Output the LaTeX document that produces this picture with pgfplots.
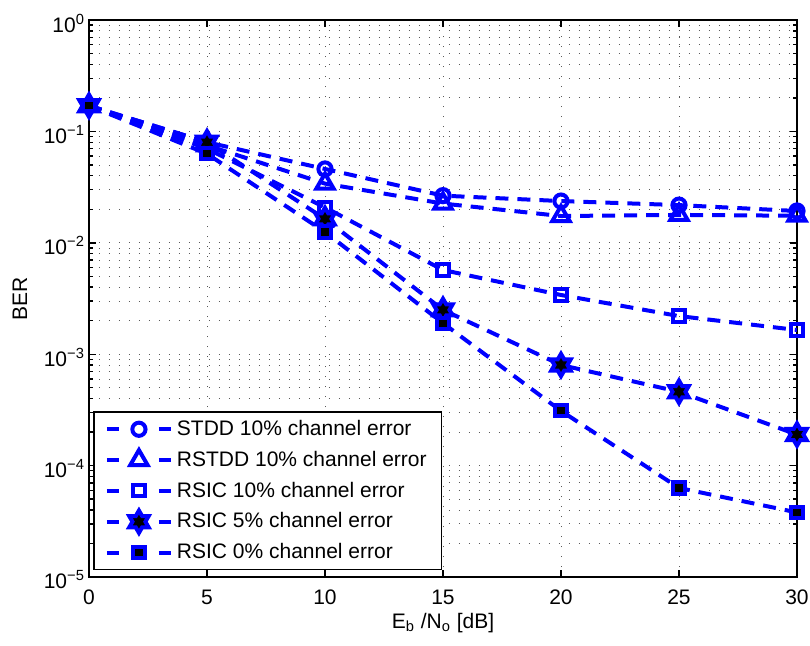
\documentclass[border=0pt]{standalone}
\usepackage{fontspec}
\setmainfont{Liberation Sans}
\usepackage{pgfplots}
\pgfplotsset{compat=1.18}

\definecolor{mblue}{rgb}{0,0,1}

% six-pointed star (hexagram) with points up and down
\pgfdeclareplotmark{hexagram}{%
  \pgfpathmoveto{\pgfpointpolar{90}{\pgfplotmarksize}}%
  \pgfpathlineto{\pgfpointpolar{120}{0.577\pgfplotmarksize}}%
  \pgfpathlineto{\pgfpointpolar{150}{\pgfplotmarksize}}%
  \pgfpathlineto{\pgfpointpolar{180}{0.577\pgfplotmarksize}}%
  \pgfpathlineto{\pgfpointpolar{210}{\pgfplotmarksize}}%
  \pgfpathlineto{\pgfpointpolar{240}{0.577\pgfplotmarksize}}%
  \pgfpathlineto{\pgfpointpolar{270}{\pgfplotmarksize}}%
  \pgfpathlineto{\pgfpointpolar{300}{0.577\pgfplotmarksize}}%
  \pgfpathlineto{\pgfpointpolar{330}{\pgfplotmarksize}}%
  \pgfpathlineto{\pgfpointpolar{0}{0.577\pgfplotmarksize}}%
  \pgfpathlineto{\pgfpointpolar{30}{\pgfplotmarksize}}%
  \pgfpathlineto{\pgfpointpolar{60}{0.577\pgfplotmarksize}}%
  \pgfpathclose
  \pgfusepathqfillstroke
}

\newcommand{\lblfont}{\fontsize{10.5}{12}\selectfont}

\begin{document}
\begin{tikzpicture}
\begin{axis}[
  scale only axis,
  width=354pt, height=278.5pt,
  xmin=0, xmax=30,
  ymode=log, ymin=1e-5, ymax=1,
  xtick={0,5,...,30},
  ytick={1e-5,1e-4,1e-3,1e-2,1e-1,1},
  yticklabels={10\textsuperscript{−5},10\textsuperscript{−4},10\textsuperscript{−3},10\textsuperscript{−2},10\textsuperscript{−1},10\textsuperscript{0}},
  minor ytick={2e-5,3e-5,4e-5,5e-5,6e-5,7e-5,8e-5,9e-5,
               2e-4,3e-4,4e-4,5e-4,6e-4,7e-4,8e-4,9e-4,
               2e-3,3e-3,4e-3,5e-3,6e-3,7e-3,8e-3,9e-3,
               2e-2,3e-2,4e-2,5e-2,6e-2,7e-2,8e-2,9e-2,
               2e-1,3e-1,4e-1,5e-1,6e-1,7e-1,8e-1,9e-1},
  /pgf/number format/assume math mode=true,
  tick label style={font=\lblfont},
  xticklabel style={yshift=-3pt},
  yticklabel style={xshift=1.5pt, yshift=-1.5pt},
  label style={font=\lblfont},
  xlabel={E\textsubscript{b} /N\textsubscript{o} [dB]},
  ylabel={BER},
  xlabel style={at={(axis description cs:0.5,-0.0826)}, anchor=center},
  ylabel style={at={(axis description cs:-0.0975,0.5)}, anchor=center},
  grid=both,
  major grid style={black!65, line width=0.4pt, dash pattern=on 0.6pt off 4.4pt},
  minor grid style={black!65, line width=0.4pt, dash pattern=on 0.6pt off 4.4pt},
  axis line style={line width=0.8pt},
  tick style={black, line width=0.7pt},
  major tick length=3.5pt, minor tick length=2pt,
  every axis plot/.append style={mblue, line width=2pt, dash pattern=on 6.5pt off 4.5pt},
  legend image code/.code={%
    \draw[mark repeat=2, mark phase=2, #1, dash pattern=on 6pt off 20pt]
      plot coordinates {(0pt,0pt) (16pt,0pt) (32pt,0pt)};
  },
  legend cell align=left,
  legend style={at={(0.006,0.012)}, anchor=south west, draw=black,
    line width=0.7pt, font=\lblfont, row sep=2.3pt,
    inner xsep=5.5pt, inner ysep=2pt,
    nodes={inner sep=2pt}},
]
\coordinate (o) at (rel axis cs:0,0);

% STDD 10% channel error
\addplot[mblue, mark=o, mark size=3.3pt, mark options={solid, draw=mblue, fill=none, line width=2pt}]
  coordinates {(0,0.17) (5,0.080) (10,0.046) (15,0.0265) (20,0.0237) (25,0.0218) (30,0.0193)};
\addlegendentry{STDD 10\% channel error}

% RSTDD 10% channel error
\addplot[mblue, mark=triangle, mark size=5pt, mark options={solid, draw=mblue, fill=none, line width=2pt}]
  coordinates {(0,0.17) (5,0.075) (10,0.034) (15,0.0225) (20,0.0174) (25,0.0178) (30,0.0175)};
\addlegendentry{RSTDD 10\% channel error}

% RSIC 10% channel error
\addplot[mblue, mark=square, mark size=2.8pt, mark options={solid, draw=mblue, fill=none, line width=2pt}]
  coordinates {(0,0.17) (5,0.070) (10,0.0208) (15,0.0057) (20,0.0034) (25,0.0022) (30,0.00165)};
\addlegendentry{RSIC 10\% channel error}

% RSIC 5% channel error
\addplot[mblue, mark=hexagram, mark size=5.6pt, mark options={solid, draw=mblue, fill=black, line width=2pt}]
  coordinates {(0,0.17) (5,0.080) (10,0.0164) (15,0.0025) (20,0.00080) (25,0.00046) (30,0.00019)};
\addlegendentry{RSIC 5\% channel error}

% RSIC 0% channel error
\addplot[mblue, mark=square*, mark size=2.8pt, mark options={solid, draw=mblue, fill=black, line width=2pt}]
  coordinates {(0,0.17) (5,0.063) (10,0.0125) (15,0.0019) (20,0.00031) (25,0.000063) (30,0.000038)};
\addlegendentry{RSIC 0\% channel error}
\end{axis}
\pgfresetboundingbox
\path[use as bounding box] (o) ++(-44.5pt,-34pt) rectangle ++(405pt,322.5pt);
\end{tikzpicture}
\end{document}
